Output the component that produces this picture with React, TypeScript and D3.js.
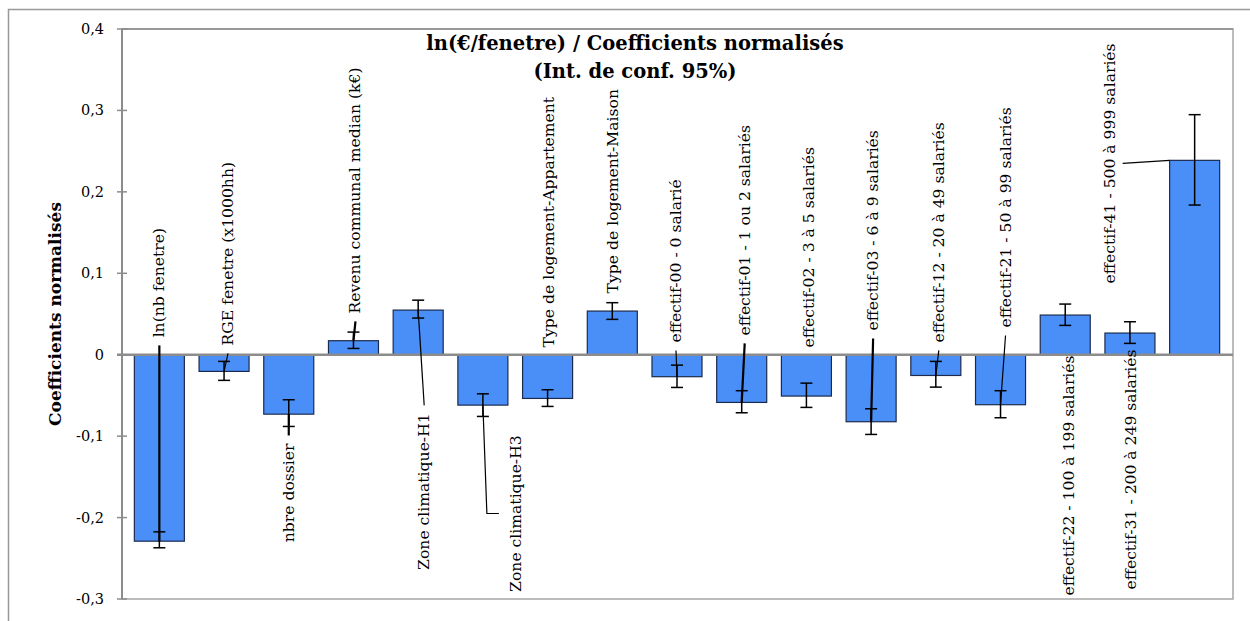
import React from "react";
import * as d3 from "d3";

const categories = [
  "ln(nb fenetre)",
  "RGE fenetre (x1000hh)",
  "nbre dossier",
  "Revenu communal median (k€)",
  "Zone climatique-H1",
  "Zone climatique-H3",
  "Type de logement-Appartement",
  "Type de logement-Maison",
  "effectif-00 - 0 salarié",
  "effectif-01 - 1 ou 2 salariés",
  "effectif-02 - 3 à 5 salariés",
  "effectif-03 - 6 à 9 salariés",
  "effectif-12 - 20 à 49 salariés",
  "effectif-21 - 50 à 99 salariés",
  "effectif-22 - 100 à 199 salariés",
  "effectif-31 - 200 à 249 salariés",
  "effectif-41 - 500 à 999 salariés",
];

const values = [
  -0.229, -0.0205, -0.073, 0.0172, 0.0548, -0.0619, -0.0537, 0.0536, -0.027,
  -0.0586, -0.0508, -0.0823, -0.0255, -0.0614, 0.0487, 0.0266, 0.2387,
];

const errUpper = [
  -0.2175, -0.0082, -0.0553, 0.0278, 0.067, -0.048, -0.043, 0.0639, -0.0128,
  -0.0442, -0.0349, -0.0664, -0.0082, -0.0442, 0.0622, 0.0405, 0.2948,
];

const errLower = [
  -0.2371, -0.0315, -0.0881, 0.0077, 0.045, -0.0758, -0.0635, 0.0434, -0.0402,
  -0.0713, -0.0647, -0.0979, -0.0398, -0.0774, 0.036, 0.0139, 0.1838,
];

const tickValues = [-0.3, -0.2, -0.1, 0, 0.1, 0.2, 0.3, 0.4];
const tickLabels = ["-0,3", "-0,2", "-0,1", "0", "0,1", "0,2", "0,3", "0,4"];

const titleLines = ["ln(€/fenetre) / Coefficients normalisés", "(Int. de conf. 95%)"];
const yAxisTitle = "Coefficients normalisés";

// where Excel's data labels were placed (value where the label starts/ends, px offset from bar centre)
type LabelLayout = {
  dx: number;
  at: number;
  anchor: "start" | "end";
  leader: "bar" | "none" | "elbow" | "side";
  heavy?: boolean;
};
const labelLayout: LabelLayout[] = [
  { dx: 0, at: 0.0213, anchor: "start", leader: "bar", heavy: true },
  { dx: 4, at: 0.0114, anchor: "start", leader: "bar" },
  { dx: 0, at: -0.109, anchor: "end", leader: "bar", heavy: true },
  { dx: 2, at: 0.0507, anchor: "start", leader: "bar", heavy: true },
  { dx: 6, at: -0.072, anchor: "end", leader: "bar" },
  { dx: 33, at: -0.099, anchor: "end", leader: "elbow" },
  { dx: 1, at: 0.009, anchor: "start", leader: "none" },
  { dx: 1, at: 0.0753, anchor: "start", leader: "none" },
  { dx: -1, at: 0.0151, anchor: "start", leader: "bar" },
  { dx: 3, at: 0.0237, anchor: "start", leader: "bar", heavy: true },
  { dx: 3, at: 0.009, anchor: "start", leader: "none" },
  { dx: 2, at: 0.0298, anchor: "start", leader: "bar", heavy: true },
  { dx: 3, at: 0.0151, anchor: "start", leader: "bar" },
  { dx: 5, at: 0.0335, anchor: "start", leader: "bar" },
  { dx: 4, at: -0.0009, anchor: "end", leader: "none" },
  { dx: 1, at: 0.0065, anchor: "end", leader: "none" },
  { dx: -85, at: 0.0876, anchor: "start", leader: "side" },
];
const elbowAt = -0.195;

const W = 1250;
const H = 621;
const FONT = "'DejaVu Serif', 'Liberation Serif', serif";

export default function App() {
  const plot = { left: 122, top: 29, right: 1233, bottom: 599 };
  const x = d3
    .scaleBand<string>()
    .domain(categories)
    .range([127, 1227])
    .paddingInner(0.227)
    .paddingOuter(0.1135);
  const y = d3.scaleLinear().domain([-0.3, 0.4]).range([plot.bottom, plot.top]);
  const bw = x.bandwidth();
  const y0 = y(0);
  const cap = 6;

  return (
    <div style={{ position: "absolute", left: 0, top: 0 }}>
      <svg width={W} height={H} style={{ display: "block", background: "#fff" }}>
        {/* outer frame */}
        <rect x={8.5} y={9.5} width={W + 20} height={H + 20} fill="none" stroke="#999" strokeWidth={1.5} />

        {/* plot frame */}
        <rect
          x={plot.left}
          y={plot.top}
          width={plot.right - plot.left}
          height={plot.bottom - plot.top}
          fill="none"
          stroke="#a6a6a6"
          strokeWidth={1.5}
        />
        <line x1={plot.left} x2={plot.right} y1={plot.top} y2={plot.top} stroke="#8c8c8c" strokeWidth={1.5} />

        {/* title */}
        {titleLines.map((t, i) => (
          <text
            key={t}
            x={635}
            y={50 + i * 28}
            textAnchor="middle"
            fontFamily={FONT}
            fontWeight="bold"
            fontSize={19.5}
            fill="#000"
          >
            {t}
          </text>
        ))}

        {/* y axis title */}
        <text
          transform={`translate(55,${(plot.top + plot.bottom) / 2}) rotate(-90)`}
          textAnchor="middle"
          dominantBaseline="central"
          fontFamily={FONT}
          fontWeight="bold"
          fontSize={17}
        >
          {yAxisTitle}
        </text>

        {/* ticks and tick labels */}
        {tickValues.map((v, i) => (
          <g key={v}>
            <line x1={plot.left - 5} x2={plot.left + 5} y1={y(v)} y2={y(v)} stroke="#8c8c8c" strokeWidth={1.5} />
            <text
              x={104}
              y={y(v)}
              textAnchor="end"
              dominantBaseline="central"
              fontFamily={FONT}
              fontSize={14.5}
              fill="#000"
            >
              {tickLabels[i]}
            </text>
          </g>
        ))}

        {/* bars */}
        {categories.map((c, i) => {
          const v = values[i];
          const top = Math.min(y(v), y0);
          return (
            <rect
              key={c}
              x={x(c)}
              y={top}
              width={bw}
              height={Math.abs(y(v) - y0)}
              fill="#4a8ff8"
              stroke="#1c2b4d"
              strokeWidth={1.2}
            />
          );
        })}

        {/* left axis and zero line */}
        <line x1={plot.left} x2={plot.left} y1={plot.top} y2={plot.bottom} stroke="#8c8c8c" strokeWidth={2} />
        <line x1={plot.left - 5} x2={plot.right} y1={y0} y2={y0} stroke="#8c8c8c" strokeWidth={2.5} />

        {/* error bars */}
        {categories.map((c, i) => {
          const cx = (x(c) as number) + bw / 2;
          return (
            <g key={c} stroke="#000" strokeWidth={1.5}>
              <line x1={cx} x2={cx} y1={y(errUpper[i])} y2={y(errLower[i])} />
              <line x1={cx - cap} x2={cx + cap} y1={y(errUpper[i])} y2={y(errUpper[i])} />
              <line x1={cx - cap} x2={cx + cap} y1={y(errLower[i])} y2={y(errLower[i])} />
            </g>
          );
        })}

        {/* leader lines */}
        {categories.map((c, i) => {
          const L = labelLayout[i];
          const cx = (x(c) as number) + bw / 2;
          const lx = cx + L.dx;
          const ly = y(L.at);
          const vy = y(values[i]);
          const sw = L.heavy ? 2.2 : 1.2;
          if (L.leader === "bar") {
            const sy = L.anchor === "start" ? ly + 8 : ly - 8;
            return <line key={c} x1={lx} y1={sy} x2={cx} y2={vy} stroke="#000" strokeWidth={sw} />;
          }
          if (L.leader === "elbow") {
            const ey = y(elbowAt);
            return (
              <polyline
                key={c}
                points={`${cx},${vy} ${cx + 4},${ey} ${lx - 17},${ey}`}
                fill="none"
                stroke="#000"
                strokeWidth={sw}
              />
            );
          }
          if (L.leader === "side") {
            return (
              <line key={c} x1={lx + 13} y1={vy + 3} x2={x(c) as number} y2={vy} stroke="#000" strokeWidth={sw} />
            );
          }
          return null;
        })}

        {/* data labels */}
        {categories.map((c, i) => {
          const L = labelLayout[i];
          const lx = (x(c) as number) + bw / 2 + L.dx;
          const ly = y(L.at);
          return (
            <text
              key={c}
              transform={`translate(${lx},${ly}) rotate(-90)`}
              textAnchor={L.anchor}
              dominantBaseline="central"
              fontFamily={FONT}
              fontSize={15.6}
              fill="#000"
            >
              {c}
            </text>
          );
        })}
      </svg>
    </div>
  );
}
